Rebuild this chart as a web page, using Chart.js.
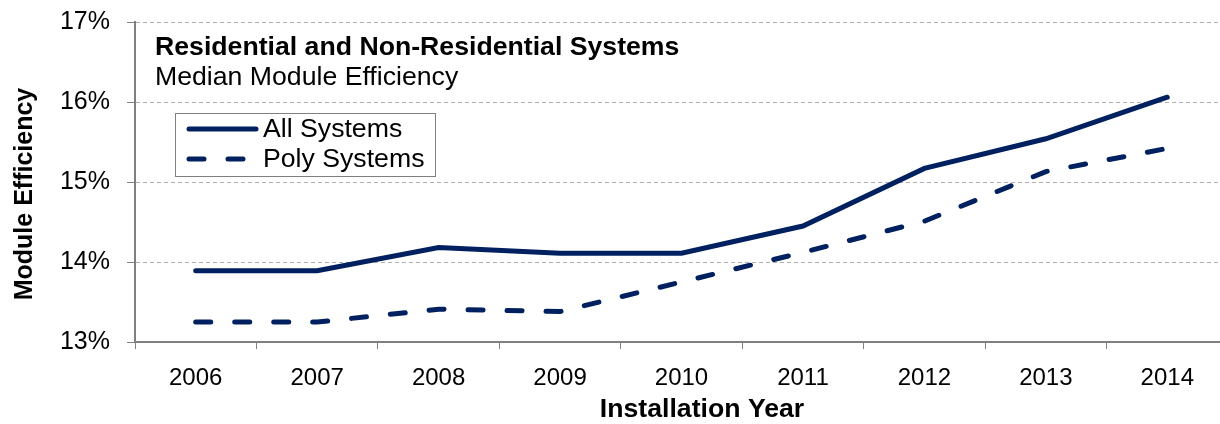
<!DOCTYPE html>
<html>
<head>
<meta charset="utf-8">
<script src="https://cdn.jsdelivr.net/npm/chart.js@4.4.0/dist/chart.umd.min.js"></script>
<style>
  html, body { margin: 0; padding: 0; background: #fff; overflow: hidden; }
  #wrap { width: 1230px; height: 424px; }
</style>
</head>
<body>
<div id="wrap"><canvas id="effChart" width="1230" height="424"></canvas></div>
<script>
const years = ["2006", "2007", "2008", "2009", "2010", "2011", "2012", "2013", "2014"];
const allSystems = [13.89, 13.89, 14.18, 14.11, 14.11, 14.45, 15.17, 15.54, 16.06];
const polySystems = [13.25, 13.25, 13.41, 13.38, 13.75, 14.12, 14.51, 15.13, 15.42];
const yTicks = [13, 14, 15, 16, 17];

const navy = "#002060";
const fontFamily = "'Liberation Sans', Arial, sans-serif";

Chart.defaults.font.family = fontFamily;
Chart.defaults.color = "#000";

// title block, axis titles and boxed legend
const overlay = {
  id: "overlay",
  afterDraw(chart) {
    const ctx = chart.ctx;
    ctx.save();
    ctx.fillStyle = "#000";
    ctx.textBaseline = "middle";
    ctx.textAlign = "left";
    ctx.font = "bold 26.67px " + fontFamily;
    ctx.fillText("Residential and Non-Residential Systems", 155, 48);
    ctx.font = "26.67px " + fontFamily;
    ctx.fillText("Median Module Efficiency", 155, 78);

    // legend box
    ctx.strokeStyle = "#808080";
    ctx.lineWidth = 1;
    ctx.strokeRect(175.5, 113.5, 260, 63);
    chart.data.datasets.forEach((ds, i) => {
      const y = 129 + i * 30;
      ctx.strokeStyle = ds.borderColor;
      ctx.lineWidth = ds.borderWidth;
      ctx.lineCap = "round";
      ctx.setLineDash(ds.borderDash || []);
      ctx.beginPath();
      ctx.moveTo(189, y);
      ctx.lineTo(256, y);
      ctx.stroke();
      ctx.setLineDash([]);
      ctx.fillText(ds.label, 263, y + 1);
    });

    // axis titles
    ctx.textAlign = "center";
    ctx.font = "bold 26.67px " + fontFamily;
    ctx.fillText("Installation Year", 702, 410);
    ctx.translate(25, 194);
    ctx.rotate(-Math.PI / 2);
    ctx.font = "bold 25px " + fontFamily;
    ctx.fillText("Module Efficiency", 0, 0);
    ctx.restore();
  }
};

new Chart(document.getElementById("effChart"), {
  type: "line",
  data: {
    labels: years,
    datasets: [
      {
        label: "All Systems",
        data: allSystems,
        borderColor: navy,
        borderWidth: 5,
        pointRadius: 0,
        tension: 0,
        borderCapStyle: "round",
        fill: false
      },
      {
        label: "Poly Systems",
        data: polySystems,
        borderColor: navy,
        borderWidth: 5,
        borderDash: [15, 24],
        borderCapStyle: "round",
        pointRadius: 0,
        tension: 0,
        fill: false
      }
    ]
  },
  options: {
    responsive: false,
    animation: false,
    layout: { padding: { left: 0, top: 22, right: 2, bottom: 0 } },
    plugins: {
      legend: { display: false },
      tooltip: { enabled: false }
    },
    scales: {
      x: {
        offset: true,
        afterFit: (s) => { s.height = 82; s.paddingLeft = 0; s.paddingRight = 0; },
        grid: {
          offset: true,
          drawOnChartArea: false,
          drawTicks: true,
          tickLength: 7,
          tickColor: "#808080"
        },
        border: { color: "#808080", width: 2 },
        ticks: { font: { size: 24 }, padding: 15, color: "#000" }
      },
      y: {
        min: 13,
        max: 17,
        afterFit: (s) => { s.width = 135; s.paddingTop = 0; s.paddingBottom = 0; },
        afterBuildTicks: (s) => { s.ticks = yTicks.map(v => ({ value: v })); },
        grid: {
          color: "#b0b0b0",
          lineWidth: 1,
          tickLength: 8,
          tickColor: "#808080",
          tickBorderDash: [],
          drawTicks: true
        },
        border: { color: "#808080", width: 2, dash: [4, 3] },
        ticks: {
          font: { size: 25 },
          padding: 17,
          color: "#000",
          callback: (v) => v + "%"
        }
      }
    }
  },
  plugins: [overlay]
});
</script>
</body>
</html>
